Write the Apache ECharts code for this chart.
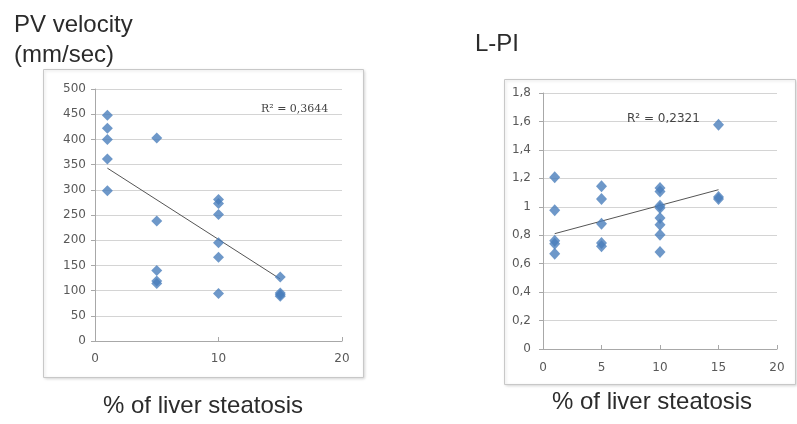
<!DOCTYPE html>
<html>
<head>
<meta charset="utf-8">
<script src="https://cdn.jsdelivr.net/npm/echarts@6/dist/echarts.min.js"></script>
<style>
html,body{margin:0;padding:0;background:#fff;}
#c{width:797px;height:424px;}
</style>
</head>
<body>
<div id="c"></div>
<script>
// ---- Data ----
const pvX = [1,1,1,1,1, 5,5,5,5,5, 10,10,10,10,10,10, 15,15,15,15];
const pvY = [448,422,400,361,298, 403,238,140,119,114, 281,273,251,195,166,94, 127,95,92,89];
const pvTrendX = [1, 15];
const pvTrendY = [343, 123];
const pvR2 = "R² = 0,3644";

const lpiX = [1,1,1,1,1, 5,5,5,5,5, 10,10,10,10,10,10,10,10, 15,15,15];
const lpiY = [1.207,0.975,0.762,0.74,0.67, 1.144,1.055,0.881,0.745,0.722, 1.132,1.108,1.008,0.991,0.921,0.874,0.804,0.682, 1.577,1.069,1.055];
const lpiTrendX = [1, 15];
const lpiTrendY = [0.811, 1.12];
const lpiR2 = "R² = 0,2321";

const xTitle = "% of liver steatosis";
const pvTitle = ["PV velocity", "(mm/sec)"];
const lpiTitle = "L-PI";

const zip = (a, b) => a.map((v, i) => [v, b[i]]);
const comma = v => String(v).replace('.', ',');

const chart = echarts.init(document.getElementById('c'));
const axisTxt = {color:'#595959', fontSize:12, fontFamily:'DejaVu Sans, sans-serif'};
const gridLine = {show:true, lineStyle:{color:'#d4d4d4', width:1}};
const axLine = {show:true, lineStyle:{color:'#a8a8a8', width:1}};
const mk = '#4a7ebb';
const bigFont = 'Liberation Sans, Arial, sans-serif';
const txtCol = '#2b2b2b';

chart.setOption({
  animation:false,
  graphic:[
    {type:'rect', shape:{x:43.5,y:69.5,width:320,height:308}, style:{fill:'#fff', stroke:'#c8c8c8', lineWidth:1, shadowBlur:3, shadowColor:'rgba(0,0,0,0.15)', shadowOffsetX:1, shadowOffsetY:1}, z:-10},
    {type:'rect', shape:{x:504.5,y:79.5,width:291,height:305}, style:{fill:'#fff', stroke:'#c8c8c8', lineWidth:1, shadowBlur:3, shadowColor:'rgba(0,0,0,0.15)', shadowOffsetX:1, shadowOffsetY:1}, z:-10},
    {type:'text', left:14, top:13, style:{text:pvTitle[0], font:'24px '+bigFont, fill:txtCol}},
    {type:'text', left:14, top:43, style:{text:pvTitle[1], font:'24px '+bigFont, fill:txtCol}},
    {type:'text', left:475, top:32, style:{text:lpiTitle, font:'24px '+bigFont, fill:txtCol}},
    {type:'text', left:103, top:394, style:{text:xTitle, font:'24px '+bigFont, fill:txtCol}},
    {type:'text', left:552, top:390, style:{text:xTitle, font:'24px '+bigFont, fill:txtCol}}
  ],
  grid:[
    {left:95, right:455, top:89, bottom:83},
    {left:543, right:20, top:93, bottom:75}
  ],
  xAxis:[
    {gridIndex:0, type:'value', min:0, max:20, interval:10, splitLine:{show:false}, axisLine:axLine,
     axisTick:{show:true, inside:true, length:4, lineStyle:{color:'#a8a8a8'}}, axisLabel:Object.assign({margin:12}, axisTxt)},
    {gridIndex:1, type:'value', min:0, max:20, interval:5, splitLine:{show:false}, axisLine:axLine,
     axisTick:{show:true, inside:true, length:4, lineStyle:{color:'#a8a8a8'}}, axisLabel:Object.assign({margin:13}, axisTxt)}
  ],
  yAxis:[
    {gridIndex:0, type:'value', min:0, max:500, interval:50, splitLine:gridLine, axisLine:axLine,
     axisTick:{show:true, length:4, lineStyle:{color:'#a8a8a8'}}, axisLabel:Object.assign({margin:9}, axisTxt)},
    {gridIndex:1, type:'value', min:0, max:1.8, interval:0.2, splitLine:gridLine, axisLine:axLine,
     axisTick:{show:true, length:4, lineStyle:{color:'#a8a8a8'}}, axisLabel:Object.assign({margin:12, formatter:v => comma(+v.toFixed(1))}, axisTxt)}
  ],
  series:[
    {type:'line', xAxisIndex:0, yAxisIndex:0, data:zip(pvTrendX, pvTrendY), showSymbol:false, symbol:'none',
     lineStyle:{color:'#555', width:1}, z:3,
     markPoint:{symbol:'rect', symbolSize:0, data:[{coord:[19.3, 460], value:pvR2}],
       label:{show:true, position:'left', formatter:pvR2, color:'#444', fontSize:11, fontFamily:'DejaVu Serif, serif', offset:[0,0]}}},
    {type:'scatter', xAxisIndex:0, yAxisIndex:0, data:zip(pvX, pvY), symbol:'diamond', symbolSize:[11,11], itemStyle:{color:mk}, z:4},
    {type:'line', xAxisIndex:1, yAxisIndex:1, data:zip(lpiTrendX, lpiTrendY), showSymbol:false, symbol:'none',
     lineStyle:{color:'#555', width:1}, z:3,
     markPoint:{symbol:'rect', symbolSize:0, data:[{coord:[6.75, 1.615], value:lpiR2}],
       label:{show:true, position:'right', formatter:lpiR2, color:'#444', fontSize:12, fontFamily:'DejaVu Sans, sans-serif', offset:[0,0]}}},
    {type:'scatter', xAxisIndex:1, yAxisIndex:1, data:zip(lpiX, lpiY), symbol:'diamond', symbolSize:[11,12], itemStyle:{color:mk}, z:4}
  ]
});
</script>
</body>
</html>
